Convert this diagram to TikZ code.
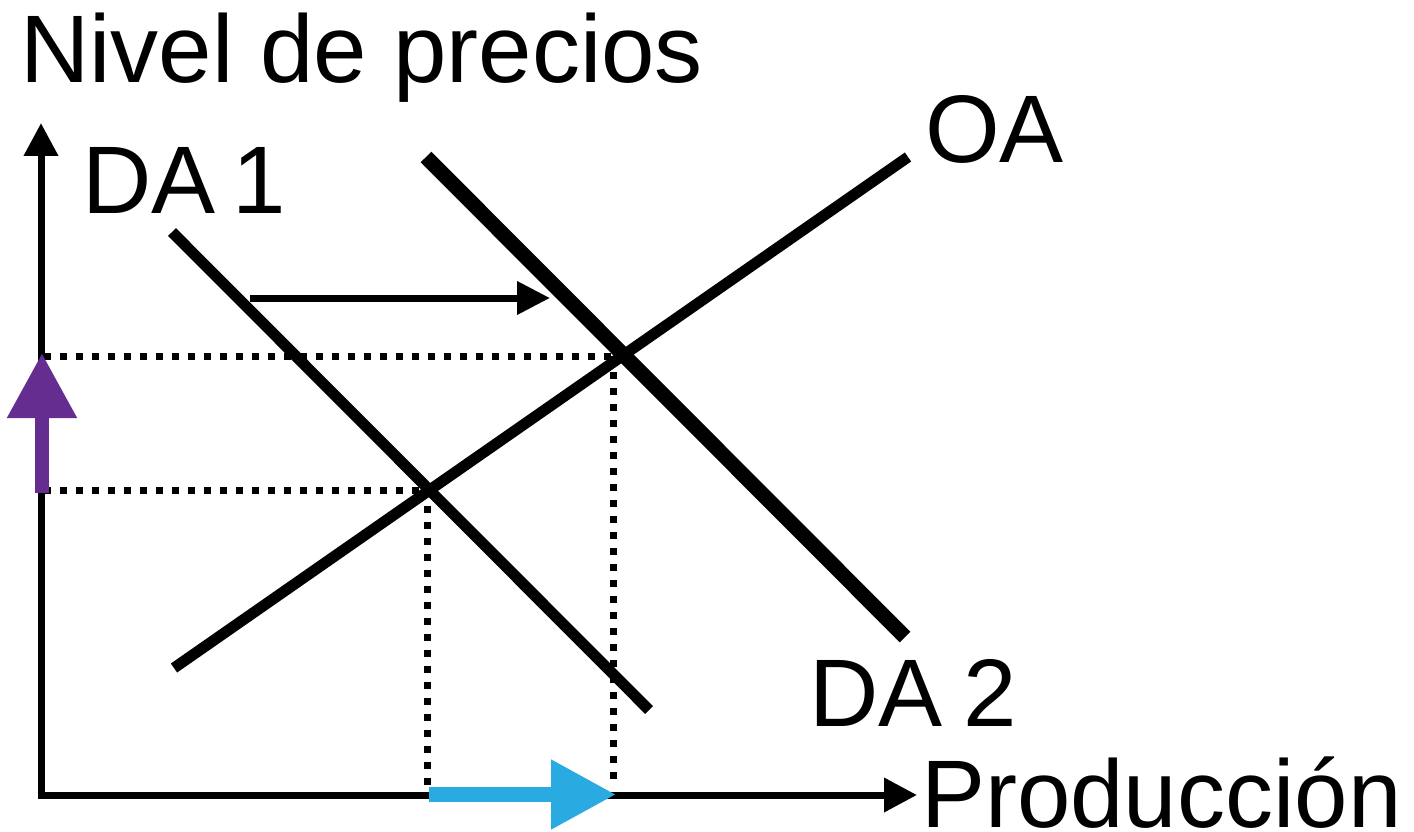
\documentclass[tikz,border=0pt]{standalone}
\usepackage{fontspec}
\setmainfont{Liberation Sans}
\usetikzlibrary{arrows.meta}
\definecolor{shiftpurple}{RGB}{102,45,145}
\definecolor{shiftblue}{RGB}{41,171,226}
\begin{document}
\begin{tikzpicture}[x=1pt,y=-1pt,
  axisline/.style={line width=7pt,-{Triangle[length=33pt,width=33pt]}},
  curveline/.style={line width=11pt},
  thickcurve/.style={line width=15pt},
  dotline/.style={line width=7pt,dash pattern=on 7pt off 9pt},
  shiftarrow/.style={line width=7pt,-{Triangle[length=33pt,width=32pt]}},
  bigarrow/.style={line width=14.5pt,-{Triangle[length=65pt,width=66pt]}},
  lbl/.style={anchor=base west,inner sep=0pt,font=\fontsize{96}{110}\selectfont}]
\useasboundingbox (0,0) rectangle (1414,832);
% coordinates
\coordinate (o) at (41,795);
\coordinate (ybot) at (41,798.5);
\coordinate (xleft) at (37.5,795);
\coordinate (ytop) at (41,123);
\coordinate (xright) at (917,795);
\coordinate (da1a) at (172,232);
\coordinate (da1b) at (649,710);
\coordinate (da2a) at (426,157);
\coordinate (da2b) at (905,637);
\coordinate (oaa) at (174,668);
\coordinate (oab) at (908,157);
\coordinate (e1) at (430,490);
\coordinate (e2) at (624,356);
\coordinate (h1l) at (44,490);
\coordinate (h2l) at (44,356);
\coordinate (v1t) at (427,490);
\coordinate (v1b) at (427,790);
\coordinate (v2t) at (613,356);
\coordinate (v2b) at (613,782);
\coordinate (sa) at (250,298);
\coordinate (sb) at (550,298);
\coordinate (pa) at (42,493);
\coordinate (pb) at (42,353);
\coordinate (ba) at (429,794.5);
\coordinate (bb) at (616,794.5);
% dotted guides
\draw[dotline] (h2l) -- (e2);
\draw[dotline] (h1l) -- (e1);
\draw[dotline] (v2t) -- (v2b);
\draw[dotline] (v1t) -- (v1b);
% curves
\draw[curveline] (da1a) -- (da1b);
\draw[thickcurve] (da2a) -- (da2b);
\draw[curveline] (oaa) -- (oab);
% shift arrow
\draw[shiftarrow] (sa) -- (sb);
% axes
\draw[axisline] (ybot) -- (ytop);
\draw[axisline] (xleft) -- (xright);
% coloured arrows
\draw[bigarrow,shiftpurple] (pa) -- (pb);
\draw[bigarrow,shiftblue] (ba) -- (bb);
% labels
\node[lbl] (ylabel) at (20,83) {Nivel de precios};
\node[lbl] (lda1) at (82,213) {DA\hspace{17pt}1};
\node[lbl] (loa) at (925,163) {OA};
\node[lbl] (lda2) at (809,726) {DA\hspace{21pt}2};
\node[lbl] (xlabel) at (921,827) {Producción};
\end{tikzpicture}
\end{document}
